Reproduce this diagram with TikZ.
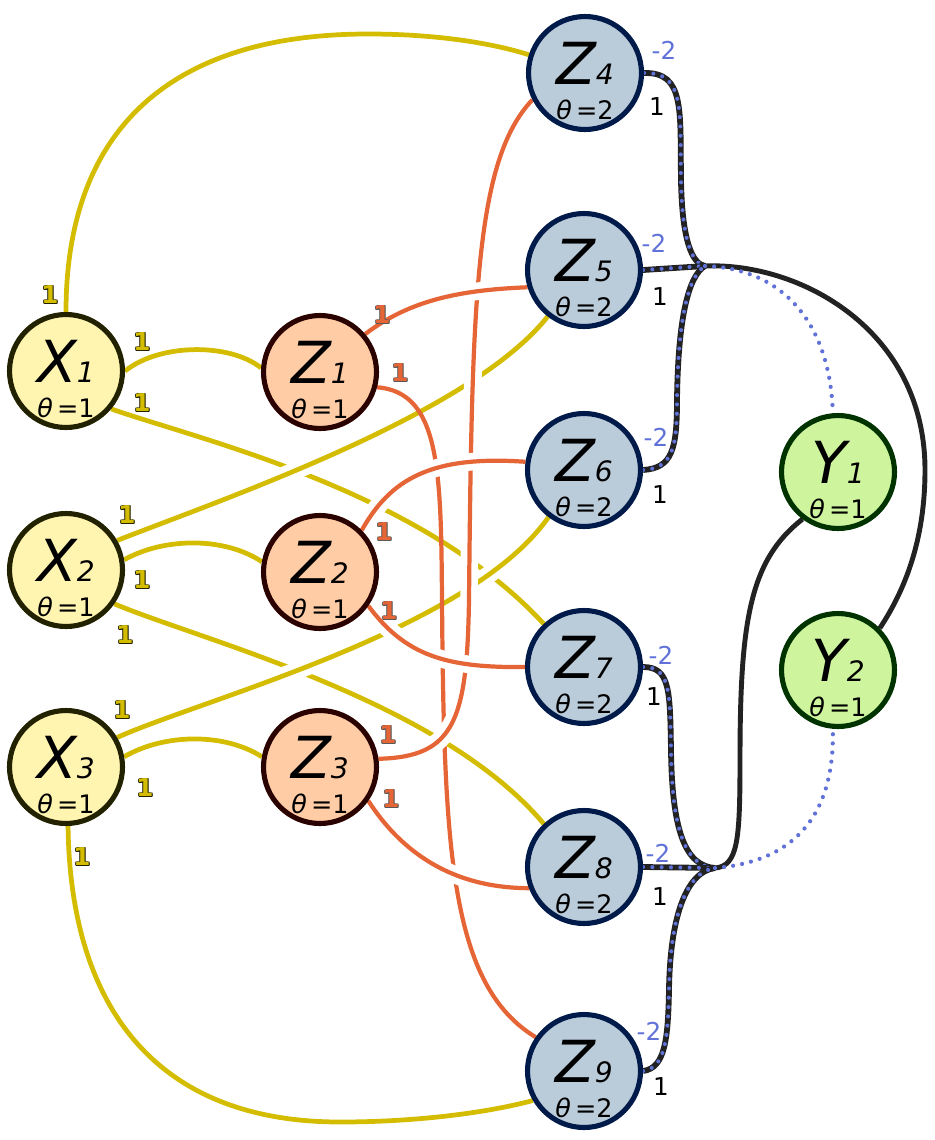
\documentclass[tikz,border=0pt]{standalone}
\usepackage{fontspec}
\setmainfont{DejaVu Sans}
\usetikzlibrary{positioning}

\definecolor{xfill}{HTML}{FFF5B1}
\definecolor{xline}{HTML}{222200}
\definecolor{hfill}{HTML}{FFCCA6}
\definecolor{hline}{HTML}{2A0200}
\definecolor{zfill}{HTML}{BACBD9}
\definecolor{zline}{HTML}{001A4A}
\definecolor{yfill}{HTML}{CEF59E}
\definecolor{yline}{HTML}{003300}
\definecolor{yel}{HTML}{D4BD00}
\definecolor{org}{HTML}{E66536}
\definecolor{dotc}{HTML}{6072D8}
\definecolor{hyp}{HTML}{222222}

\pgfdeclarelayer{edges}
\pgfsetlayers{edges,main}

% node text: letter, index, theta
\newcommand\vlab[3]{%
  \makebox[0pt]{\raisebox{-6.8pt}[0pt][0pt]{\fontsize{33}{33}\selectfont\itshape #1\fontsize{16}{16}\selectfont #2}}%
  \makebox[0pt]{\raisebox{-26.2pt}[0pt][0pt]{\fontsize{14.5}{14}\selectfont\itshape θ\,\upshape=#3}}}
% outlined weight: outline colour, fill colour, text
\newcommand\olab[3]{%
  {\color{#1}%
   \rlap{\hspace*{0.45pt}#3}\rlap{\hspace*{-0.45pt}#3}%
   \rlap{\raisebox{0.45pt}{#3}}\rlap{\raisebox{-0.45pt}{#3}}%
   \rlap{\hspace*{0.32pt}\raisebox{0.32pt}{#3}}\rlap{\hspace*{-0.32pt}\raisebox{0.32pt}{#3}}%
   \rlap{\hspace*{0.32pt}\raisebox{-0.32pt}{#3}}\rlap{\hspace*{-0.32pt}\raisebox{-0.32pt}{#3}}}%
  \textcolor{#2}{#3}}

\tikzset{
  vx/.style={circle, minimum size=2.26cm, inner sep=0pt, line width=2.9pt},
  inx/.style={vx, fill=xfill, draw=xline},
  hid/.style={vx, fill=hfill, draw=hline},
  mid/.style={vx, fill=zfill, draw=zline},
  outv/.style={vx, fill=yfill, draw=yline},
  yedge/.style={draw=yel, line width=2.7pt},
  oedge/.style={draw=org, line width=2.4pt},
  bridge/.style={preaction={draw=white, line width=10pt}},
  hyper/.style={draw=hyp, line width=3.3pt, postaction={draw=dotc, line width=2.3pt, line cap=round, dash pattern=on 0pt off 5.3pt}},
  hypb/.style={draw=hyp, line width=2.8pt},
  bdots/.style={draw=dotc, line width=2.4pt, line cap=round, dash pattern=on 0pt off 5.2pt},
  elab/.style={inner sep=0pt, font=\fontsize{14}{14}\selectfont\bfseries},
  wlab/.style={inner sep=0pt, font=\fontsize{14}{14}\selectfont},
}

\begin{document}
\begin{tikzpicture}[x=0.02cm, y=-0.02cm]
	\useasboundingbox (0,0) rectangle (934,1140);

	% inputs
	\node[inx] (X1) at (66,371) {\vlab{X}{1}{1}};
	\node[inx] (X2) at (66,570) {\vlab{X}{2}{1}};
	\node[inx] (X3) at (66,767) {\vlab{X}{3}{1}};

	\node[hid] (Z1) at (320,372) {\vlab{Z}{1}{1}};
	\node[hid] (Z2) at (320,572) {\vlab{Z}{2}{1}};
	\node[hid] (Z3) at (320,767) {\vlab{Z}{3}{1}};

	\node[mid] (Z4) at (585,73) {\vlab{Z}{4}{2}};
	\node[mid] (Z5) at (584,270) {\vlab{Z}{5}{2}};
	\node[mid] (Z6) at (584,470) {\vlab{Z}{6}{2}};
	\node[mid] (Z7) at (584,667) {\vlab{Z}{7}{2}};
	\node[mid] (Z8) at (584,867) {\vlab{Z}{8}{2}};
	\node[mid] (Z9) at (584,1071) {\vlab{Z}{9}{2}};

	\node[outv] (Y1) at (838,472) {\vlab{Y}{1}{1}};
	\node[outv] (Y2) at (838,670) {\vlab{Y}{2}{1}};

	\coordinate (J1) at (705,266);
	\coordinate (J2) at (715,868);

	\begin{pgfonlayer}{edges}
		% yellow
		\draw[yedge] (X1.-40) .. controls (200,440) and (420,490) .. (Z7.133);
		\draw[yedge] (X2.-35) .. controls (200,640) and (440,700) .. (Z8.133);
		\draw[yedge, bridge] (X2.30) .. controls (220,500) and (470,415) .. (Z5.232);
		\draw[yedge, bridge] (X3.30) .. controls (200,700) and (470,630) .. (Z6.233);
		\draw[yedge] (X1.north) .. controls (66,130) and (170,34) .. (368,34) .. controls (440,34) and (495,44) .. (Z4.162);
		\draw[yedge] (X3.-88) .. controls (70,1000) and (150,1122) .. (340,1122) .. controls (420,1122) and (490,1112) .. (Z9.210);
		\draw[yedge] (X1.east) .. controls (160,343) and (230,343) .. (Z1.176);
		\draw[yedge] (X2.10) .. controls (165,537) and (225,537) .. (Z2.170);
		\draw[yedge] (X3.10) .. controls (165,733) and (225,733) .. (Z3.170);

		% orange
		\draw[oedge] (Z1.-15) .. controls (440,392) and (441,470) .. (442,600) .. controls (444,850) and (450,985) .. (Z9.145);
		\draw[oedge, bridge] (Z3.8) .. controls (455,757) and (467,720) .. (469,600) .. controls (472,300) and (475,160) .. (Z4.207);
		\draw[oedge, bridge] (Z1.40) .. controls (410,300) and (460,290) .. (Z5.197);
		\draw[oedge, bridge] (Z2.45) .. controls (390,480) and (430,455) .. (Z6.172);
		\draw[oedge, bridge] (Z2.-35) .. controls (405,655) and (445,668) .. (Z7.west);
		\draw[oedge, bridge] (Z3.-35) .. controls (400,850) and (450,888) .. (Z8.201);

		% to outputs
		\draw[hypb] (J1) .. controls (800,262) and (925,330) .. (925,470) .. controls (925,540) and (905,590) .. (Y2.45);
		\draw[hypb] (J2) .. controls (738,866) and (740,840) .. (740,760) .. controls (740,620) and (750,560) .. (Y1.233);
		\draw[hyper] (Z4.east) .. controls (685,72) and (680,110) .. (681,180) .. controls (682,240) and (692,264) .. (J1);
		\draw[hyper] (Z5.east) -- (J1);
		\draw[hyper] (Z6.east) .. controls (672,468) and (677,450) .. (677,400) .. controls (678,320) and (688,276) .. (J1);
		\draw[hyper] (Z7.east) .. controls (670,667) and (670,690) .. (671,750) .. controls (672,830) and (685,866) .. (J2);
		\draw[hyper] (Z8.east) -- (J2);
		\draw[hyper] (Z9.east) .. controls (665,1068) and (668,1040) .. (669,990) .. controls (670,920) and (685,872) .. (J2);
		\draw[bdots] (J1) .. controls (780,268) and (830,320) .. (Y1.95);
		\draw[bdots] (J2) .. controls (790,862) and (835,820) .. (Y2.265);
	\end{pgfonlayer}

	% weights
	\node[elab] (w14) at (50,295) {\olab{xline}{yel}{1}};
	\node[elab] (w11) at (142,342) {\olab{xline}{yel}{1}};
	\node[elab] (w17) at (142,403) {\olab{xline}{yel}{1}};
	\node[elab] (w25) at (127,515) {\olab{xline}{yel}{1}};
	\node[elab] (w22) at (142,580) {\olab{xline}{yel}{1}};
	\node[elab] (w28) at (125,635) {\olab{xline}{yel}{1}};
	\node[elab] (w36) at (122,710) {\olab{xline}{yel}{1}};
	\node[elab] (w33) at (145,788) {\olab{xline}{yel}{1}};
	\node[elab] (w39) at (82,857) {\olab{xline}{yel}{1}};

	\node[elab] (v15) at (382,315) {\olab{black!65}{org}{1}};
	\node[elab] (v19) at (400,373) {\olab{black!65}{org}{1}};
	\node[elab] (v26) at (384,532) {\olab{black!65}{org}{1}};
	\node[elab] (v27) at (389,611) {\olab{black!65}{org}{1}};
	\node[elab] (v34) at (388,735) {\olab{black!65}{org}{1}};
	\node[elab] (v38) at (391,799) {\olab{black!65}{org}{1}};

	\node[wlab, text=dotc] (b4) at (664,50) {-2};
	\node[wlab, text=dotc] (b5) at (654,243) {-2};
	\node[wlab, text=dotc] (b6) at (656,437) {-2};
	\node[wlab, text=dotc] (b7) at (661,655) {-2};
	\node[wlab, text=dotc] (b8) at (658,853) {-2};
	\node[wlab, text=dotc] (b9) at (649,1031) {-2};
	\node[wlab] (k4) at (657,107) {1};
	\node[wlab] (k5) at (660,297) {1};
	\node[wlab] (k6) at (660,495) {1};
	\node[wlab] (k7) at (654,697) {1};
	\node[wlab] (k8) at (660,897) {1};
	\node[wlab] (k9) at (661,1087) {1};
\end{tikzpicture}
\end{document}
